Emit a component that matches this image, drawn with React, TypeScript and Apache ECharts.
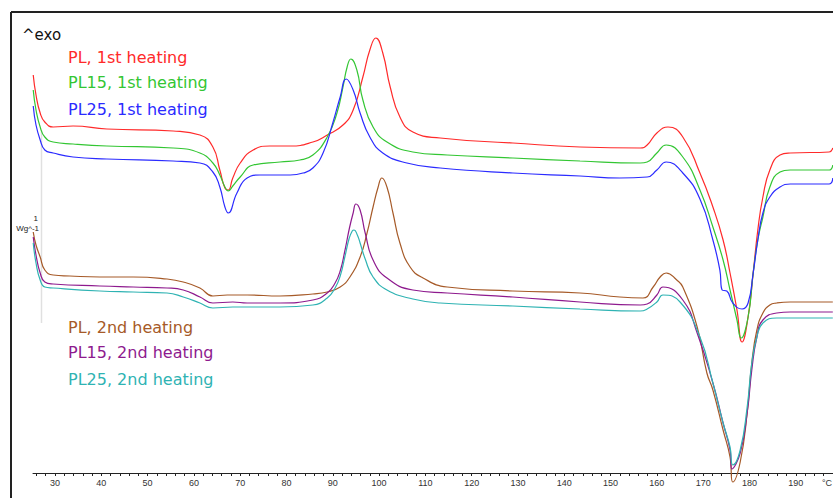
import React, { useEffect, useRef } from "react";
import * as echarts from "echarts";

// Temperature (°C) vs heat flow (W/g, arbitrary offset, exo up)
const PL_1ST: [number, number][] = [
  [25.3, 3.98], [25.9, 3.78], [26.8, 3.6], [27.8, 3.51], [29.6, 3.46], [33.9, 3.47], [41.2, 3.44],
  [55.5, 3.42], [61.3, 3.38], [64.1, 3.26], [65.6, 3.03], [66.7, 2.85], [67.4, 2.83], [68.4, 2.95],
  [70.0, 3.1], [72.8, 3.23], [76.4, 3.27], [80.8, 3.27], [85.7, 3.31], [88.8, 3.38], [92.2, 3.48],
  [94.4, 3.63], [96.5, 3.96], [98.0, 4.23], [99.3, 4.35], [100.8, 4.2], [102.4, 3.86], [104.5, 3.56],
  [107.3, 3.41], [113.2, 3.35], [128.9, 3.3], [143.4, 3.26], [156.4, 3.25], [157.9, 3.28],
  [160.0, 3.4], [162.4, 3.46], [165.6, 3.36], [169.3, 3.0], [172.1, 2.66], [174.3, 2.33],
  [175.8, 2.0], [177.3, 1.63], [178.4, 1.31], [179.7, 1.56], [180.8, 2.0], [181.8, 2.43],
  [182.9, 2.76], [184.4, 3.03], [186.6, 3.18], [188.8, 3.2], [197.2, 3.21], [198.0, 3.25],
];
const PL15_1ST: [number, number][] = [
  [25.3, 3.83], [25.9, 3.63], [26.8, 3.46], [27.8, 3.36], [29.6, 3.31], [33.9, 3.29], [41.2, 3.27],
  [55.5, 3.25], [61.3, 3.2], [64.1, 3.1], [65.6, 2.98], [66.7, 2.86], [67.4, 2.82], [68.4, 2.87],
  [70.0, 2.96], [72.8, 3.08], [78.6, 3.11], [82.9, 3.13], [85.7, 3.18], [88.8, 3.36], [90.9, 3.6],
  [92.2, 3.86], [93.1, 4.06], [93.9, 4.14], [95.2, 4.03], [96.5, 3.73], [98.7, 3.46], [101.7, 3.31],
  [107.3, 3.21], [114.7, 3.18], [128.9, 3.15], [143.4, 3.12], [156.4, 3.1], [157.9, 3.11],
  [160.0, 3.2], [162.0, 3.28], [165.6, 3.16], [169.3, 2.83], [172.1, 2.46], [174.3, 2.13],
  [175.8, 1.83], [177.3, 1.53], [178.2, 1.35], [179.7, 1.56], [180.8, 2.0], [181.8, 2.33],
  [182.9, 2.56], [184.4, 2.86], [186.6, 3.01], [188.8, 3.03], [197.2, 3.03], [198.0, 3.08],
];
const PL25_1ST: [number, number][] = [
  [25.3, 3.67], [25.9, 3.48], [26.8, 3.33], [27.8, 3.23], [29.6, 3.2], [33.9, 3.16], [41.2, 3.14],
  [55.5, 3.12], [61.3, 3.1], [64.1, 3.01], [65.6, 2.86], [66.7, 2.66], [67.4, 2.6], [69.3, 2.8],
  [71.5, 2.95], [74.3, 2.98], [80.8, 2.98], [83.6, 3.0], [85.7, 3.05], [87.9, 3.2], [90.0, 3.5],
  [91.6, 3.76], [92.9, 3.94], [94.4, 3.83], [95.9, 3.6], [98.0, 3.36], [100.8, 3.2], [106.0, 3.1],
  [113.2, 3.05], [128.9, 3.0], [143.4, 2.97], [152.0, 2.95], [157.9, 2.96], [160.0, 3.03],
  [162.0, 3.11], [165.6, 3.0], [169.3, 2.74], [172.1, 2.33], [173.6, 2.03], [174.1, 1.83],
  [175.1, 1.82], [176.4, 1.7], [178.4, 1.64], [179.7, 1.7], [180.8, 2.0], [181.8, 2.33],
  [182.9, 2.6], [184.4, 2.76], [186.6, 2.86], [188.8, 2.89], [197.2, 2.89], [198.0, 2.95],
];
const PL_2ND: [number, number][] = [
  [25.3, 2.41], [25.9, 2.28], [26.8, 2.16], [27.8, 2.03], [29.6, 1.98], [33.2, 1.97], [39.7, 1.96],
  [46.9, 1.96], [54.2, 1.94], [57.7, 1.91], [61.3, 1.85], [64.1, 1.77], [67.2, 1.78], [71.5, 1.78],
  [78.6, 1.77], [85.7, 1.79], [88.8, 1.81], [91.6, 1.86], [93.7, 1.96], [95.9, 2.16], [97.4, 2.4],
  [98.7, 2.66], [99.8, 2.86], [100.6, 2.95], [101.7, 2.86], [103.0, 2.6], [104.5, 2.3],
  [106.7, 2.06], [109.5, 1.95], [114.7, 1.86], [128.9, 1.82], [143.4, 1.8], [152.0, 1.76],
  [157.0, 1.75], [159.2, 1.86], [160.7, 1.96], [162.0, 2.0], [164.3, 1.93], [165.6, 1.86],
  [168.7, 1.46], [170.8, 1.0], [172.1, 0.83], [174.3, 0.43], [175.8, 0.16], [176.4, -0.09],
  [178.0, 0.11], [179.5, 0.6], [180.5, 1.1], [181.6, 1.43], [182.9, 1.6], [184.4, 1.68],
  [185.9, 1.7], [188.8, 1.71], [198.0, 1.71],
];
const PL15_2ND: [number, number][] = [
  [25.3, 2.36], [25.9, 2.18], [26.8, 2.0], [27.8, 1.91], [29.6, 1.89], [39.7, 1.87], [46.9, 1.86],
  [54.2, 1.85], [57.7, 1.83], [61.3, 1.76], [64.1, 1.7], [68.4, 1.71], [71.5, 1.7], [78.6, 1.7],
  [85.7, 1.73], [88.8, 1.8], [90.5, 1.9], [91.6, 2.02], [92.6, 2.22], [93.6, 2.45], [94.4, 2.6],
  [95.0, 2.69], [95.9, 2.63], [97.0, 2.4], [98.7, 2.13], [101.7, 1.95], [107.3, 1.83],
  [114.7, 1.8], [128.9, 1.76], [143.4, 1.71], [156.4, 1.68], [157.9, 1.69], [160.0, 1.78],
  [161.3, 1.86], [165.6, 1.73], [168.7, 1.4], [172.1, 0.9], [174.3, 0.5], [175.8, 0.23],
  [176.2, 0.04], [178.0, 0.2], [179.5, 0.6], [180.5, 1.03], [181.6, 1.36], [182.9, 1.53],
  [185.9, 1.6], [188.8, 1.61], [198.0, 1.61],
];
const PL25_2ND: [number, number][] = [
  [25.3, 2.3], [25.9, 2.1], [26.8, 1.93], [27.8, 1.86], [29.6, 1.85], [39.7, 1.82], [46.9, 1.81],
  [54.2, 1.8], [57.7, 1.76], [61.3, 1.7], [64.1, 1.65], [68.4, 1.66], [71.5, 1.66], [78.6, 1.66],
  [85.7, 1.68], [88.8, 1.75], [90.5, 1.85], [91.6, 1.97], [92.6, 2.16], [93.5, 2.34], [94.2, 2.42],
  [94.6, 2.43], [95.3, 2.38], [95.9, 2.3], [97.0, 2.14], [98.7, 1.96], [101.7, 1.83],
  [107.3, 1.74], [113.2, 1.7], [128.9, 1.67], [143.4, 1.64], [156.4, 1.62], [157.9, 1.64],
  [160.0, 1.71], [161.3, 1.78], [165.0, 1.71], [169.3, 1.36], [172.1, 0.9], [174.3, 0.5],
  [175.8, 0.26], [176.4, 0.08], [178.0, 0.23], [179.5, 0.66], [180.5, 1.1], [181.6, 1.36],
  [182.9, 1.5], [185.9, 1.55], [188.8, 1.55], [198.0, 1.55],
];

const SERIES_NAMES = [
  "PL, 1st heating",
  "PL15, 1st heating",
  "PL25, 1st heating",
  "PL, 2nd heating",
  "PL15, 2nd heating",
  "PL25, 2nd heating",
];
const SERIES_DATA = [PL_1ST, PL15_1ST, PL25_1ST, PL_2ND, PL15_2ND, PL25_2ND];
const SERIES_COLORS = ["#ff2a2a", "#33c633", "#2b2bff", "#a65a28", "#8e1a8e", "#2fb3b3"];

const X_LABELS = [30, 40, 50, 60, 70, 80, 90, 100, 110, 120, 130, 140, 150, 160, 170, 180, 190];
const X_TICKS = [
  26, 28, 30, 32, 34, 36, 38, 40, 42, 44, 46, 48, 50, 52, 54, 56, 58, 60, 62, 64, 66, 68, 70, 72, 74,
  76, 78, 80, 82, 84, 86, 88, 90, 92, 94, 96, 98, 100, 102, 104, 106, 108, 110, 112, 114, 116, 118,
  120, 122, 124, 126, 128, 130, 132, 134, 136, 138, 140, 142, 144, 146, 148, 150, 152, 154, 156,
  158, 160, 162, 164, 166, 168, 170, 172, 174, 176, 178, 180, 182, 184, 186, 188, 190, 192, 194,
  196, 198,
];
const X_MIN = 25.25;
const X_MAX = 198.04;
const Y_MIN = 0;
const Y_MAX = 4.61;

const FONT = "'DejaVu Sans', Verdana, sans-serif";

export default function App() {
  const ref = useRef<HTMLDivElement>(null);
  useEffect(() => {
    if (!ref.current) return;
    const chart = echarts.init(ref.current, undefined, { renderer: "svg" });
    const legendY = [57, 82, 109, 327, 352, 379];
    const option: any = {
      animation: false,
      backgroundColor: "#ffffff",
      grid: { left: 33, right: 0, top: 12, bottom: 25, containLabel: false, outerBoundsMode: "none" },
      xAxis: {
        type: "value",
        min: X_MIN,
        max: X_MAX,
        axisLine: { show: true, onZero: false, lineStyle: { color: "#222", width: 1 } },
        axisTick: { show: true, length: 3, customValues: X_TICKS, lineStyle: { color: "#222" } },
        axisLabel: {
          customValues: X_LABELS,
          fontSize: 9,
          color: "#333",
          margin: 5,
          fontFamily: "'Liberation Sans', Arial, sans-serif",
        },
        splitLine: { show: false },
      },
      yAxis: { type: "value", min: Y_MIN, max: Y_MAX, show: false },
      series: SERIES_DATA.map((d, i) => ({
        name: SERIES_NAMES[i],
        type: "line",
        data: d,
        showSymbol: false,
        smooth: 0.5,
        clip: false,
        lineStyle: { color: SERIES_COLORS[i], width: 1.2 },
        itemStyle: { color: SERIES_COLORS[i] },
      })),
      graphic: [
        { type: "line", shape: { x1: 11, y1: 12, x2: 833, y2: 12 }, style: { stroke: "#222", lineWidth: 2 } },
        { type: "line", shape: { x1: 11, y1: 12, x2: 11, y2: 498 }, style: { stroke: "#222", lineWidth: 2 } },
        { type: "line", shape: { x1: 41.5, y1: 130, x2: 41.5, y2: 323 }, style: { stroke: "#e0e0e0", lineWidth: 1.5 } },
        {
          type: "text",
          x: 22,
          y: 35,
          style: { text: "^exo", fill: "#111", font: `15px ${FONT}`, verticalAlign: "middle" },
        },
        {
          type: "text",
          x: 38,
          y: 218,
          style: { text: "1", fill: "#222", font: "8px 'Liberation Sans', Arial", align: "right", verticalAlign: "middle" },
        },
        {
          type: "text",
          x: 39,
          y: 228,
          style: { text: "Wg^-1", fill: "#222", font: "8px 'Liberation Sans', Arial", align: "right", verticalAlign: "middle" },
        },
        {
          type: "text",
          x: 832,
          y: 483,
          style: { text: "°C", fill: "#333", font: "9px 'Liberation Sans', Arial", align: "right", verticalAlign: "middle" },
        },
        ...SERIES_NAMES.map((n, i) => ({
          type: "text",
          x: 68,
          y: legendY[i],
          style: { text: n, fill: SERIES_COLORS[i], font: `16px ${FONT}`, verticalAlign: "middle" },
        })),
      ],
    };
    chart.setOption(option);
    return () => chart.dispose();
  }, []);
  return (
    <div
      ref={ref}
      style={{ position: "fixed", left: 0, top: 0, width: 833, height: 498 }}
    />
  );
}
